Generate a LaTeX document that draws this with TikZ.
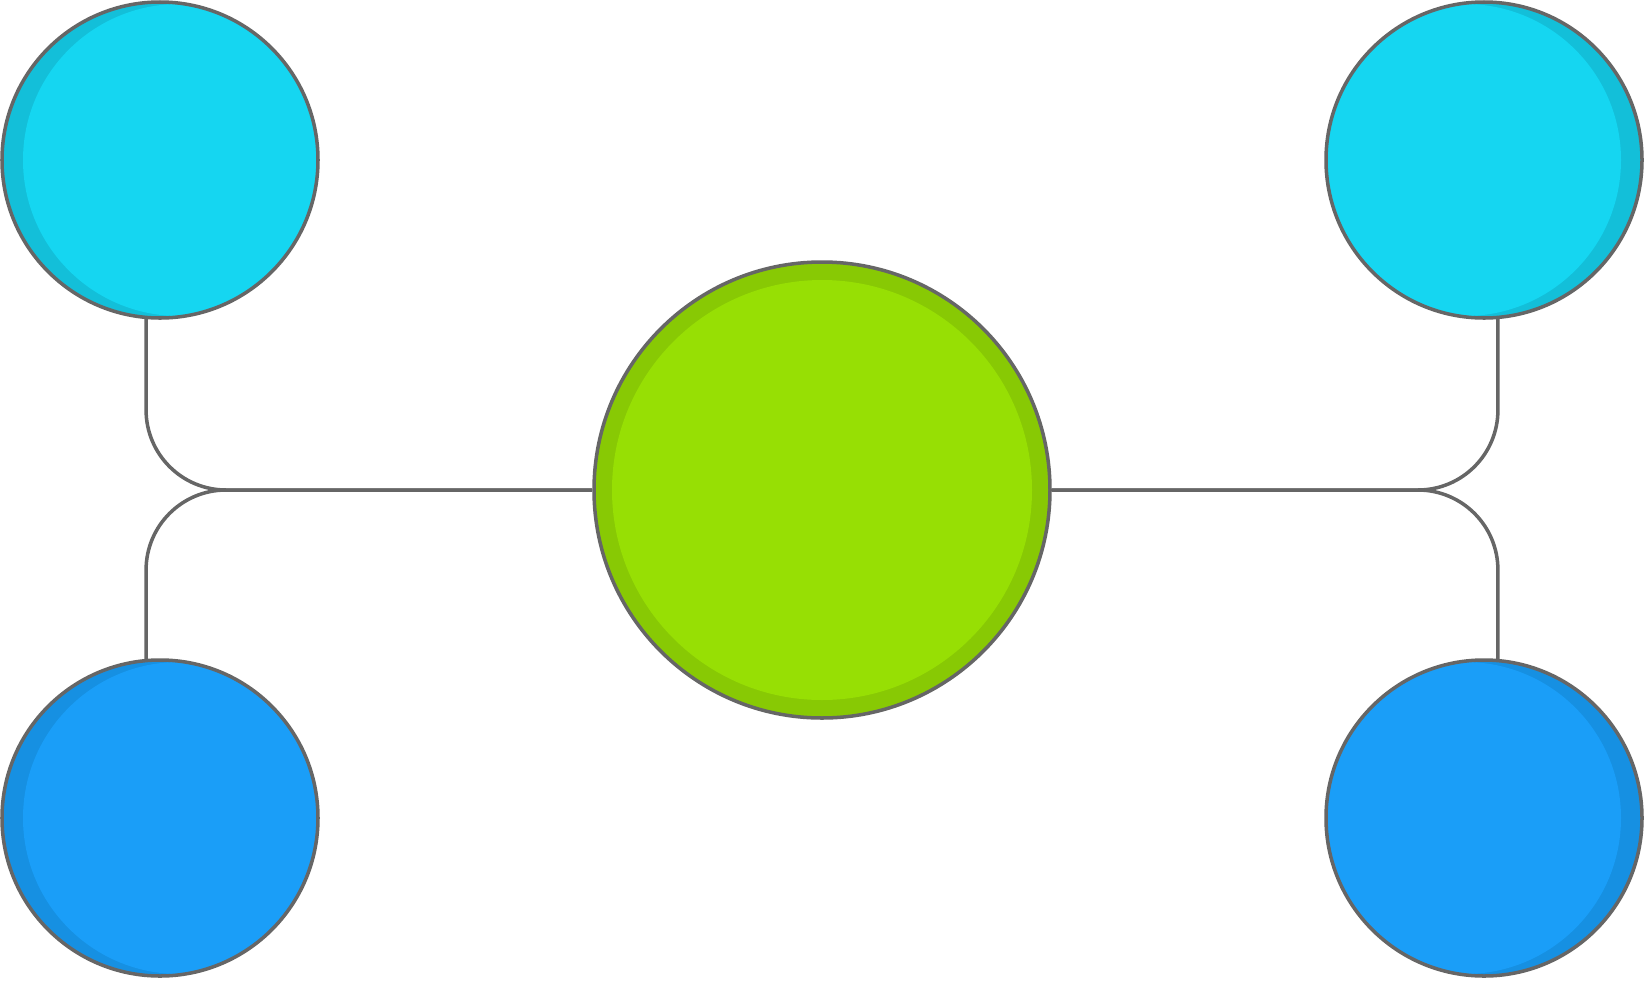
\documentclass[tikz,border=0pt]{standalone}
\definecolor{cyanlight}{HTML}{15D6F1}
\definecolor{cyandark}{HTML}{13BFD9}
\definecolor{bluelight}{HTML}{1A9EF8}
\definecolor{bluedark}{HTML}{1690E2}
\definecolor{greenlight}{HTML}{97DF04}
\definecolor{greendark}{HTML}{88C904}
\definecolor{linegray}{HTML}{666666}
\begin{document}
\begin{tikzpicture}[
	ball/.style = {circle, draw = linegray, line width = 1pt, inner sep = 0pt, minimum size = 3.16cm},
	moon/.style n args = {3}{ball, fill = #2, path picture = {\fill[#3] ([xshift = #1]path picture bounding box.center) circle (1.56cm);}},
	hub/.style = {ball, minimum size = 4.56cm, fill = greendark, path picture = {\fill[greenlight] (path picture bounding box.center) circle (2.10cm);}},
	link/.style = {draw = linegray, line width = 1pt, rounded corners = 0.8cm}
]
%	\draw[help lines] (0,0) grid (16,10);
	\useasboundingbox (0,0) rectangle (16.45,9.80);
	\node [hub] (core) at (8.22,4.90) {};
	\node [moon = {1.9mm}{cyandark}{cyanlight}] (tl) at (1.60,8.20) {};
	\node [moon = {1.9mm}{bluedark}{bluelight}] (bl) at (1.60,1.62) {};
	\node [moon = {-1.9mm}{cyandark}{cyanlight}] (tr) at (14.84,8.20) {};
	\node [moon = {-1.9mm}{bluedark}{bluelight}] (br) at (14.84,1.62) {};
	\draw [link] (tl.265) |- (core.west);
	\draw [link] (bl.95) |- (core.west);
	\draw [link] (tr.275) |- (core.east);
	\draw [link] (br.85) |- (core.east);
\end{tikzpicture}
\end{document}
